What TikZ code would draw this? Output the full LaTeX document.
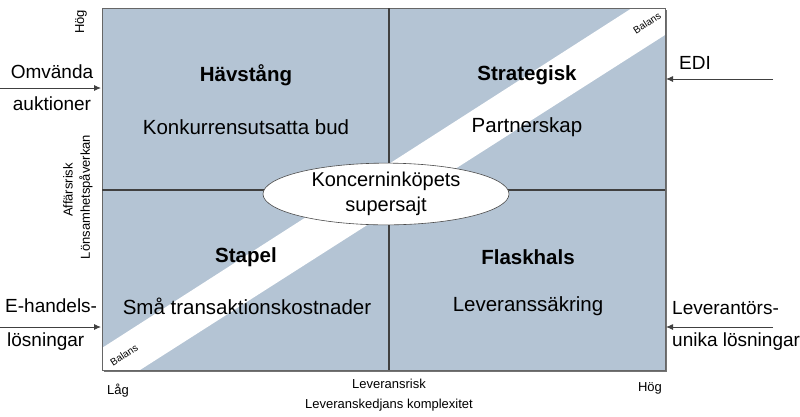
\documentclass[tikz,border=0pt]{standalone}
\usepackage{fontspec}
\setmainfont{Liberation Sans}
\usetikzlibrary{arrows.meta,shapes.geometric}
\definecolor{quadfill}{RGB}{180,196,212}
\begin{document}
\begin{tikzpicture}[x=1pt,y=-1pt,
  quadtitle/.style={font=\fontsize{20.5}{24}\selectfont\bfseries, inner sep=0pt},
  quadtext/.style={font=\fontsize{20.5}{24}\selectfont, inner sep=0pt},
  sidetext/.style={font=\fontsize{19}{23}\selectfont, inner sep=0pt},
  axistext/.style={font=\fontsize{13}{15}\selectfont, inner sep=0pt},
  balanstext/.style={font=\fontsize{10}{12}\selectfont, rotate=33, inner sep=0pt},
  inarrow/.style={draw=black!75, line width=0.9pt, -{Latex[length=7pt,width=6pt]}},
  midline/.style={draw=black!75, line width=1.3pt}
]
\useasboundingbox (0,0) rectangle (800,416);
% shadow and square
\fill[black!55] (104,10) rectangle (667,372);
\fill[quadfill] (102,8) rectangle (665,370);
% diagonal band
\fill[white] (102,348) -- (102,370) -- (140,370) -- (665,35) -- (665,8) -- (632,8) -- cycle;
\draw[black!60, line width=0.6pt] (102,8) rectangle (665,370);
% midlines
\draw[midline] (389,8) -- (389,370);
\draw[midline] (102,190) -- (665,190);
% centre ellipse
\node[ellipse, draw=black!70, line width=0.6pt, fill=white, minimum width=246pt, minimum height=59pt, inner sep=0pt, align=center, font=\fontsize{20}{25}\selectfont] (hub) at (386,194) {Koncerninköpets\\supersajt};
% quadrant texts
\node[quadtitle] (t1) at (246,75) {Hävstång};
\node[quadtext] (s1) at (246,127) {Konkurrensutsatta bud};
\node[quadtitle] (t2) at (527,75) {Strategisk};
\node[quadtext] (s2) at (527,127) {Partnerskap};
\node[quadtitle] (t3) at (246,257) {Stapel};
\node[quadtext] (s3) at (247,306) {Små transaktionskostnader};
\node[quadtitle] (t4) at (528,257) {Flaskhals};
\node[quadtext] (s4) at (528,306) {Leveranssäkring};
% balans
\node[balanstext] (b1) at (124,355) {Balans};
\node[balanstext] (b2) at (647,23) {Balans};
% axes
\node[axistext, rotate=90] (yhi) at (81,22) {Hög};
\node[axistext, rotate=90] (ylab1) at (68,190) {Affärsrisk};
\node[axistext, rotate=90] (ylab2) at (86,197) {Lönsamhetspåverkan};
\node[axistext] (xlo) at (118,391) {Låg};
\node[axistext] (xhi) at (650,388) {Hög};
\node[axistext] (xlab1) at (389,384) {Leveransrisk};
\node[axistext] (xlab2) at (389,405) {Leveranskedjans komplexitet};
% side labels
\node[sidetext] (l1a) at (52,72) {Omvända};
\node[sidetext] (l1b) at (52,104) {auktioner};
\node[sidetext, anchor=west] (l2a) at (5,306) {E-handels-};
\node[sidetext, anchor=west] (l2b) at (7,342) {lösningar};
\node[sidetext] (r1) at (695,63) {EDI};
\node[sidetext, anchor=west] (r2a) at (672,308) {Leverantörs-};
\node[sidetext, anchor=west] (r2b) at (672,342) {unika lösningar};
% arrows
\coordinate (a1s) at (0,88);   \coordinate (a1e) at (101,88);
\coordinate (a2s) at (0,327);  \coordinate (a2e) at (101,327);
\coordinate (a3s) at (773,79); \coordinate (a3e) at (666,79);
\coordinate (a4s) at (773,327);\coordinate (a4e) at (666,327);
\draw[inarrow] (a1s) -- (a1e);
\draw[inarrow] (a2s) -- (a2e);
\draw[inarrow] (a3s) -- (a3e);
\draw[inarrow] (a4s) -- (a4e);
\end{tikzpicture}
\end{document}
